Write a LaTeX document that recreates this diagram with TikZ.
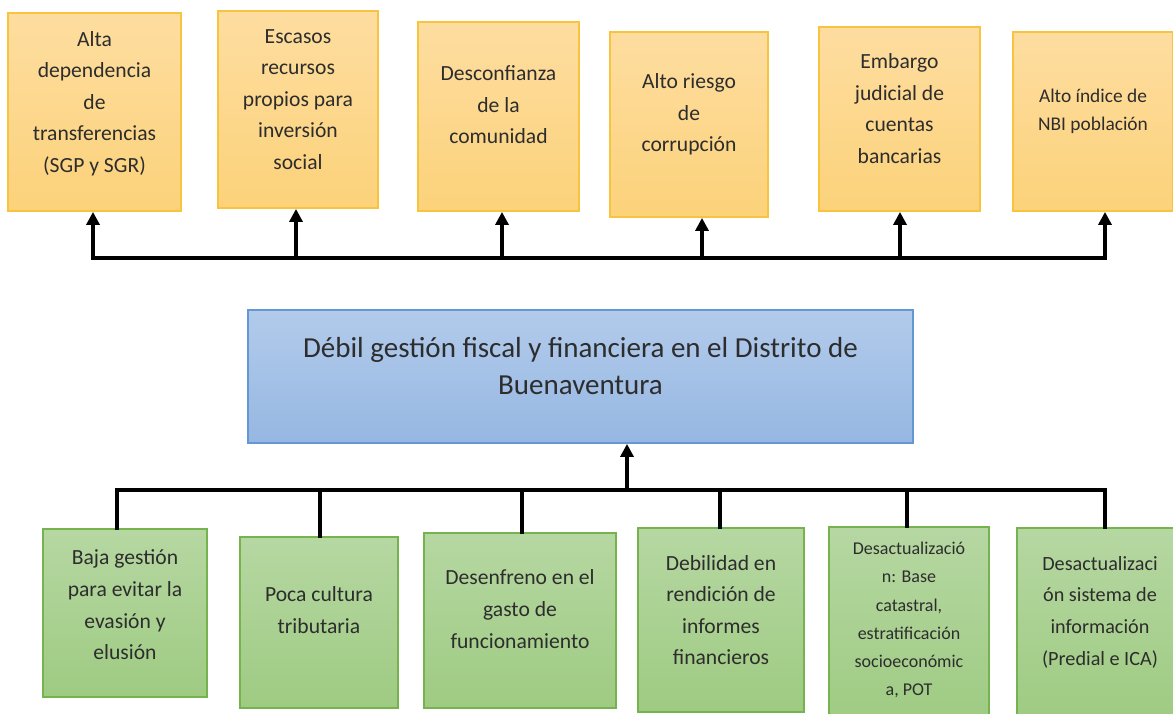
\documentclass[tikz,border=0pt]{standalone}
\usepackage{fontspec}
\setmainfont{Carlito}
\usetikzlibrary{arrows.meta}
\definecolor{naranjaA}{RGB}{253,221,160}
\definecolor{naranjaB}{RGB}{252,210,122}
\definecolor{naranjaL}{RGB}{248,196,64}
\definecolor{verdeA}{RGB}{182,215,162}
\definecolor{verdeB}{RGB}{158,203,130}
\definecolor{verdeL}{RGB}{118,178,78}
\definecolor{azulA}{RGB}{178,203,235}
\definecolor{azulB}{RGB}{150,183,226}
\definecolor{azulL}{RGB}{100,152,212}
\definecolor{grisT}{RGB}{45,45,45}
\begin{document}
\begin{tikzpicture}[x=0.5pt,y=-0.5pt,
	caja/.style={line width=0.9pt, inner sep=0pt},
	efecto/.style={caja, draw=naranjaL, top color=naranjaA, bottom color=naranjaB},
	causa/.style={caja, draw=verdeL, top color=verdeA, bottom color=verdeB},
	problema/.style={caja, draw=azulL, top color=azulA, bottom color=azulB},
	texto/.style={align=center, text=grisT, inner sep=0pt, font=\fontsize{10.8}{15.8}\selectfont},
	linea/.style={line width=1.6pt, line cap=rect},
	flecha/.style={line width=1.6pt, -{Triangle[width=6.5pt,length=6.5pt]}}]
	\useasboundingbox (0,0) rectangle (1173,713);
	% efectos
	\node[efecto, minimum width=86.5pt, minimum height=99pt] at (94.5,112) (t1) {};
	\node[efecto, minimum width=80pt, minimum height=98.5pt] at (298,109.5) (t2) {};
	\node[efecto, minimum width=80.5pt, minimum height=94.5pt] at (498.5,116.5) (t3) {};
	\node[efecto, minimum width=79pt, minimum height=92.5pt] at (689,124.5) (t4) {};
	\node[efecto, minimum width=80.5pt, minimum height=92pt] at (899.5,119) (t5) {};
	\node[efecto, minimum width=80pt, minimum height=89.5pt] at (1093,121.5) (t6) {};
	\node[texto] at (94.5,103.5) (t1txt) {Alta\\dependencia\\de\\transferencias\\(SGP y SGR)};
	\node[texto] at (298,99.5) (t2txt) {Escasos\\recursos\\propios para\\inversión\\social};
	\node[texto] at (498.5,105) (t3txt) {Desconfianza\\de la\\comunidad};
	\node[texto] at (689,114.5) (t4txt) {Alto riesgo\\de\\corrupción};
	\node[texto] at (899.5,108.5) (t5txt) {Embargo\\judicial de\\cuentas\\bancarias};
	\node[texto, font=\fontsize{9.7}{14}\selectfont] at (1093,111) (t6txt) {Alto índice de\\NBI población};
	% problema central
	\node[problema, minimum width=332.5pt, minimum height=66.5pt] at (580.5,376.5) (prob) {};
	\node[texto, font=\fontsize{14.5}{18.5}\selectfont] at (580.5,366.5) (probtxt) {Débil gestión fiscal y financiera en el Distrito de\\Buenaventura};
	% causas
	\node[causa, minimum width=82pt, minimum height=84pt] at (125,613) (b1) {};
	\node[causa, minimum width=79pt, minimum height=85.5pt] at (319,622.5) (b2) {};
	\node[causa, minimum width=96pt, minimum height=87.5pt] at (520,620.5) (b3) {};
	\node[causa, minimum width=83pt, minimum height=92pt] at (721,620) (b4) {};
	\node[causa, minimum width=80pt, minimum height=99pt] at (909,626) (b5) {};
	\node[causa, minimum width=83pt, minimum height=96pt] at (1100,624) (b6) {};
	\node[texto] at (125,605) (b1txt) {Baja gestión\\para evitar la\\evasión y\\elusión};
	\node[texto] at (319,610) (b2txt) {Poca cultura\\tributaria};
	\node[texto] at (520,609) (b3txt) {Desenfreno en el\\gasto de\\funcionamiento};
	\node[texto] at (721,610) (b4txt) {Debilidad en\\rendición de\\informes\\financieros};
	\node[texto, font=\fontsize{9}{14.1}\selectfont] at (909,620) (b5txt) {Desactualizació\\n: Base\\catastral,\\estratificación\\socioeconómic\\a, POT};
	\node[texto, font=\fontsize{10.1}{15.8}\selectfont] at (1100,612) (b6txt) {Desactualizaci\\ón sistema de\\información\\(Predial e ICA)};
	% conectores arriba
	\coordinate (e1) at (93,258);
	\coordinate (e2) at (296,258);
	\coordinate (e3) at (502,258);
	\coordinate (e4) at (702,258);
	\coordinate (e5) at (900,258);
	\coordinate (e6) at (1105,258);
	\draw[linea] (e1) -- (e6);
	\draw[flecha] (e1) -- (e1 |- t1.south);
	\draw[flecha] (e2) -- (e2 |- t2.south);
	\draw[flecha] (e3) -- (e3 |- t3.south);
	\draw[flecha] (e4) -- (e4 |- t4.south);
	\draw[flecha] (e5) -- (e5 |- t5.south);
	\draw[flecha] (e6) -- (e6 |- t6.south);
	% conectores abajo
	\coordinate (c1) at (117,490);
	\coordinate (c2) at (320,490);
	\coordinate (c3) at (522,490);
	\coordinate (c4) at (720,490);
	\coordinate (c5) at (907,490);
	\coordinate (c6) at (1105,490);
	\coordinate (cp) at (627,490);
	\draw[linea] (c1) -- (c6);
	\draw[flecha] (cp) -- (cp |- prob.south);
	\draw[linea] (c1) -- (c1 |- b1.north);
	\draw[linea] (c2) -- (c2 |- b2.north);
	\draw[linea] (c3) -- (c3 |- b3.north);
	\draw[linea] (c4) -- (c4 |- b4.north);
	\draw[linea] (c5) -- (c5 |- b5.north);
	\draw[linea] (c6) -- (c6 |- b6.north);
\end{tikzpicture}
\end{document}
